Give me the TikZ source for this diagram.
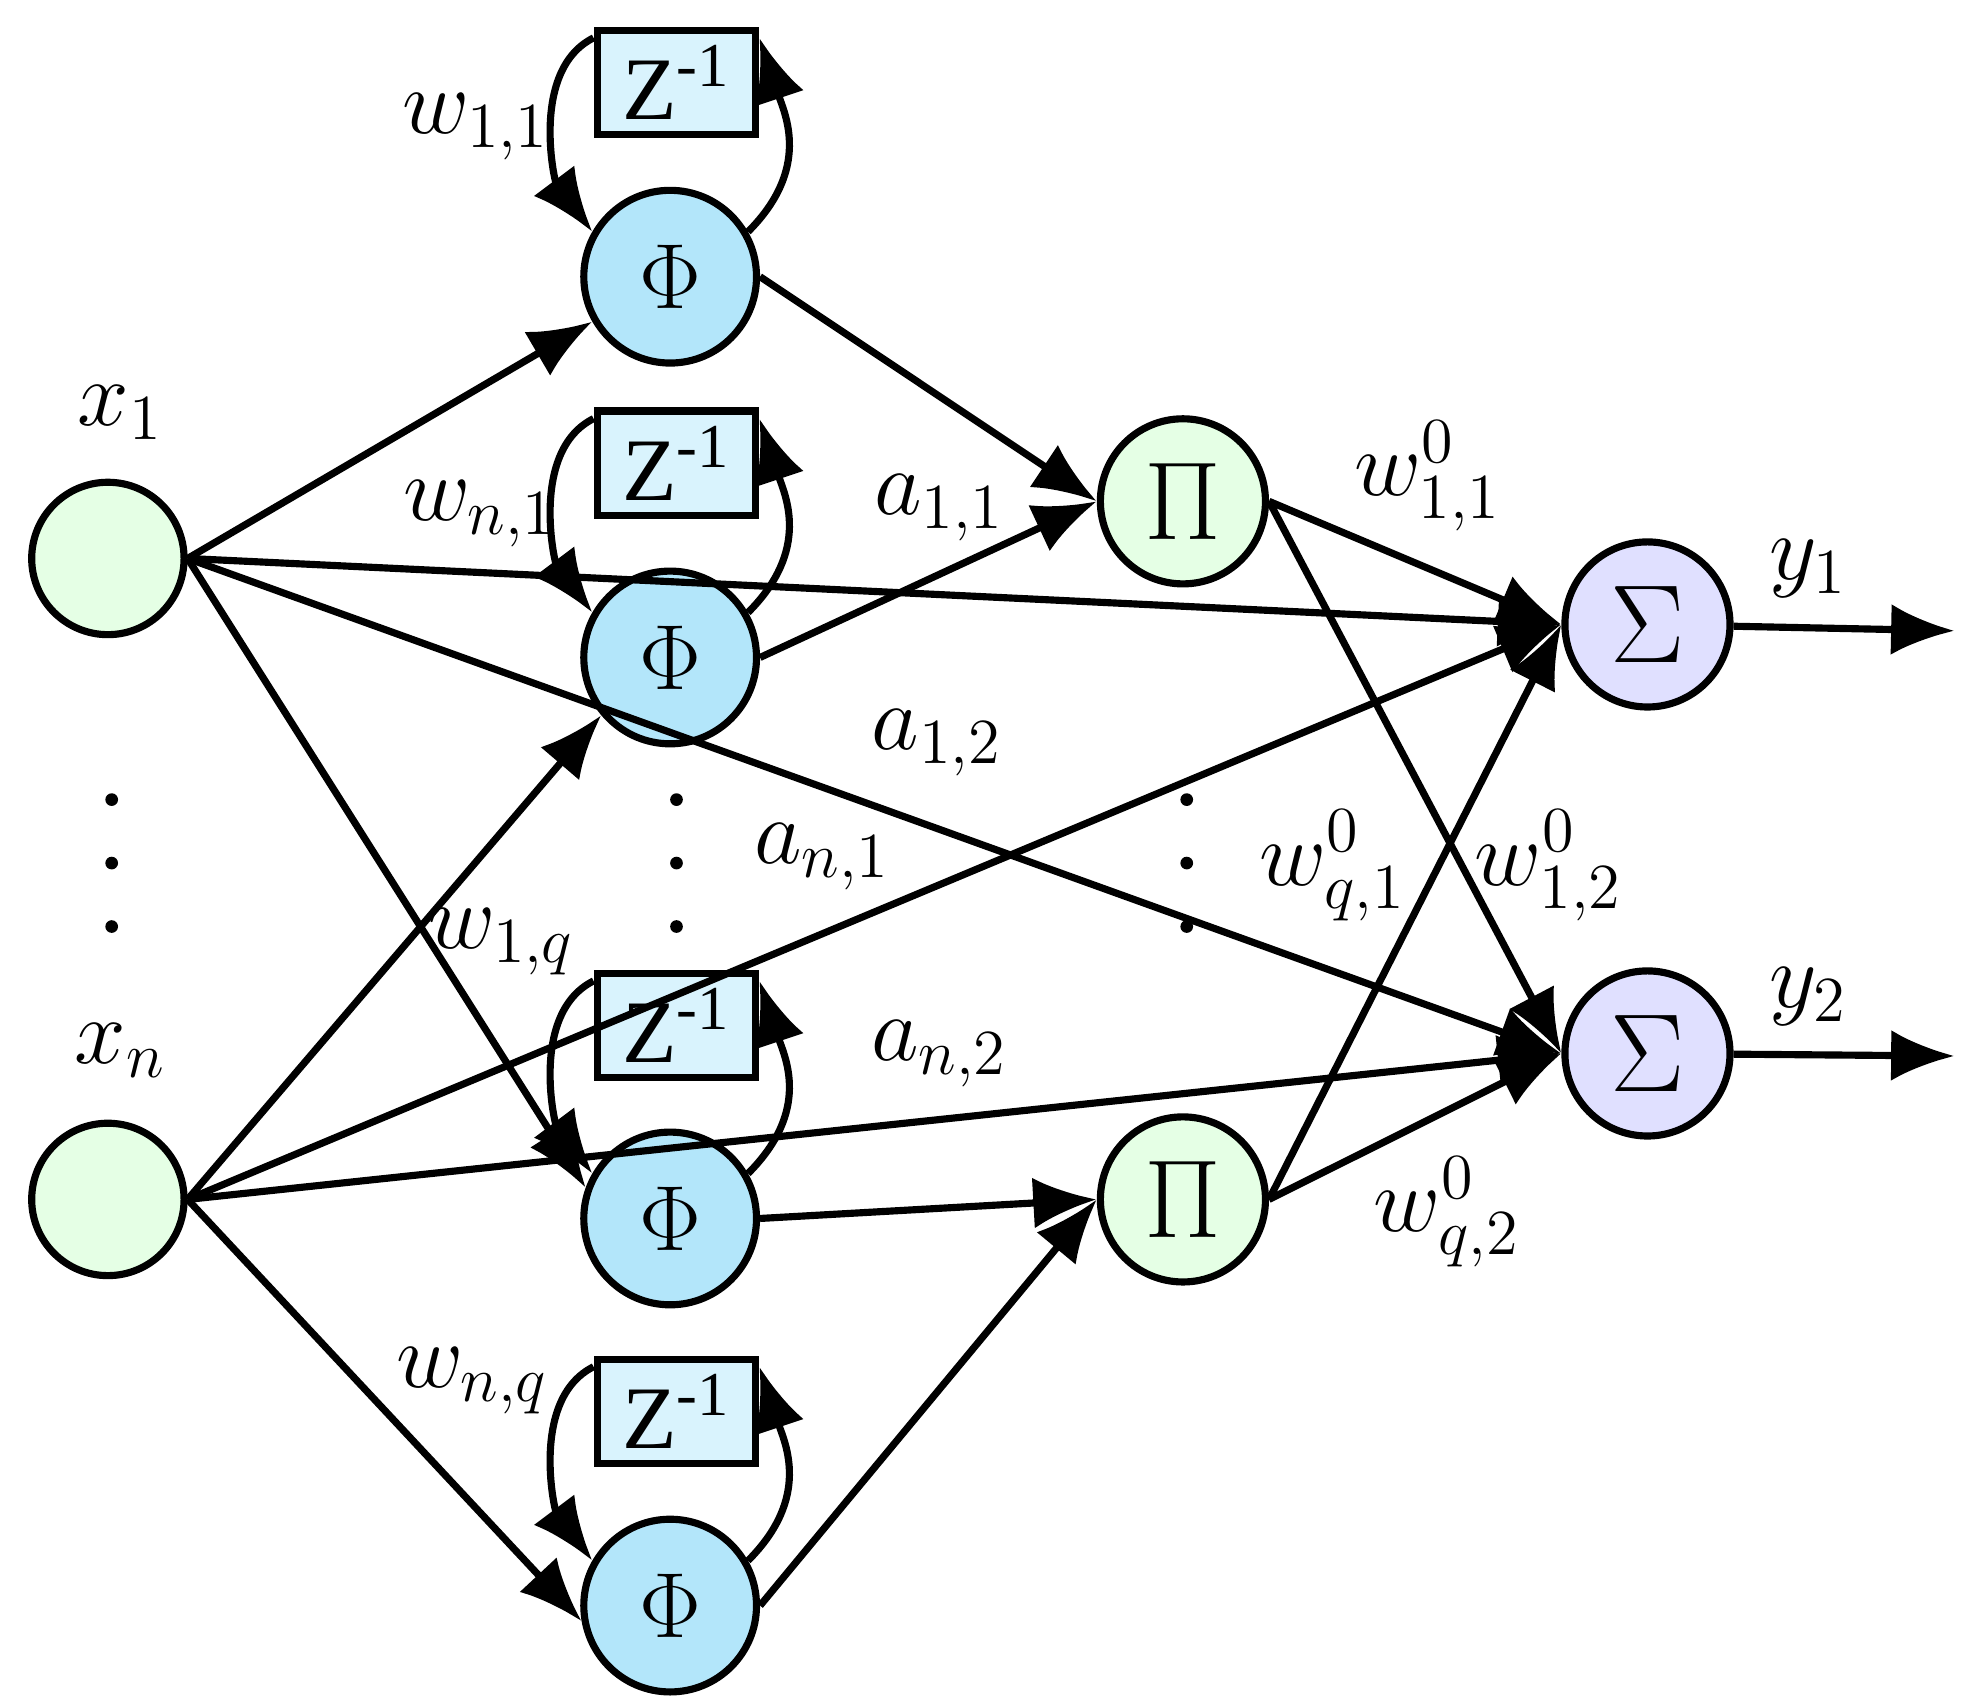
\documentclass[tikz,border=0pt]{standalone}
\usepackage{fontspec}
\setmainfont{Liberation Serif}
\usetikzlibrary{arrows.meta}
\begin{document}
\begin{tikzpicture}[x=0.01cm,y=-0.01cm,
  every node/.style={font=\fontsize{22}{26}\selectfont},
  inp/.style={circle,draw,line width=1.6pt,fill=green!10,minimum size=1.2cm},
  phi/.style={circle,draw,line width=1.6pt,fill=cyan!30!white,minimum size=1.36cm},
  pin/.style={circle,draw,line width=1.6pt,fill=green!10,minimum size=1.3cm},
  sig/.style={circle,draw,line width=1.6pt,fill=blue!12,minimum size=1.3cm},
  zb/.style={rectangle,draw,line width=1.6pt,fill=cyan!15,minimum width=1.25cm,minimum height=0.8cm},
  ar/.style={line width=1.6pt,-{Latex[length=0.5cm,width=0.4cm]}},
  lbl/.style={font=\fontsize{20}{24}\selectfont}]
\useasboundingbox (0,0) rectangle (1560,1343);
\node[inp] (x1) at (85,440) {};
\node[inp] (xn) at (85,945) {};
\node[phi] (p1) at (528,218) {$\Phi$};
\node[phi] (p2) at (528,518) {$\Phi$};
\node[phi] (p3) at (528,960) {$\Phi$};
\node[phi] (p4) at (528,1265) {$\Phi$};
\foreach \i/\y in {1/65,2/365,3/808,4/1112}
  \node[zb] (z\i) at (533,\y) {\fontsize{20}{24}\selectfont Z\textsuperscript{-1}};
\node[pin] (m1) at (932,395) {\fontsize{30}{34}\selectfont$\Pi$};
\node[pin] (m2) at (932,945) {\fontsize{30}{34}\selectfont$\Pi$};
\node[sig] (s1) at (1298,492) {\fontsize{30}{34}\selectfont$\Sigma$};
\node[sig] (s2) at (1298,830) {\fontsize{30}{34}\selectfont$\Sigma$};
\coordinate (o1) at (1540,497);
\coordinate (o2) at (1540,832);
\foreach \i in {1,2,3,4}{
  \draw[ar] ([yshift=10]z\i.west) .. controls +(-50,25) and +(-30,-40) .. (p\i.150);
  \draw[ar] (p\i.30) .. controls +(50,-50) and +(20,60) .. ([yshift=10]z\i.east);
}
\draw[ar] (x1.east) -- (p1.210);
\draw[ar] (x1.east) -- (s1.west);
\draw[ar] (x1.east) -- (s2.west);
\draw[ar] (x1.east) -- (p3.160);
\draw[ar] (xn.east) -- (p2.220);
\draw[ar] (xn.east) -- (s1.west);
\draw[ar] (xn.east) -- (s2.west);
\draw[ar] (xn.east) -- (p4.190);
\draw[ar] (p1.east) -- (m1.west);
\draw[ar] (p2.east) -- (m1.west);
\draw[ar] (p3.east) -- (m2.west);
\draw[ar] (p4.east) -- (m2.west);
\draw[ar] (m1.east) -- (s1.west);
\draw[ar] (m1.east) -- (s2.west);
\draw[ar] (m2.east) -- (s1.west);
\draw[ar] (m2.east) -- (s2.west);
\draw[ar] (s1) -- (o1);
\draw[ar] (s2) -- (o2);
\foreach \x in {88,533,935} \foreach \y in {630,680,730} \fill (\x,\y) circle (5);
\node[lbl] at (95,325) {$x_1$};
\node[lbl] at (95,828) {$x_n$};
\node[lbl] at (375,100) {$w_{1,1}$};
\node[lbl] at (378,405) {$w_{n,1}$};
\node[lbl] at (395,742) {$w_{1,q}$};
\node[lbl] at (372,1088) {$w_{n,q}$};
\node[lbl] at (740,400) {$a_{1,1}$};
\node[lbl] at (738,585) {$a_{1,2}$};
\node[lbl] at (648,675) {$a_{n,1}$};
\node[lbl] at (740,830) {$a_{n,2}$};
\node[lbl] at (1125,375) {$w^0_{1,1}$};
\node[lbl] at (1050,682) {$w^0_{q,1}$};
\node[lbl] at (1220,682) {$w^0_{1,2}$};
\node[lbl] at (1140,955) {$w^0_{q,2}$};
\node[lbl] at (1425,448) {$y_1$};
\node[lbl] at (1425,785) {$y_2$};
\end{tikzpicture}
\end{document}
